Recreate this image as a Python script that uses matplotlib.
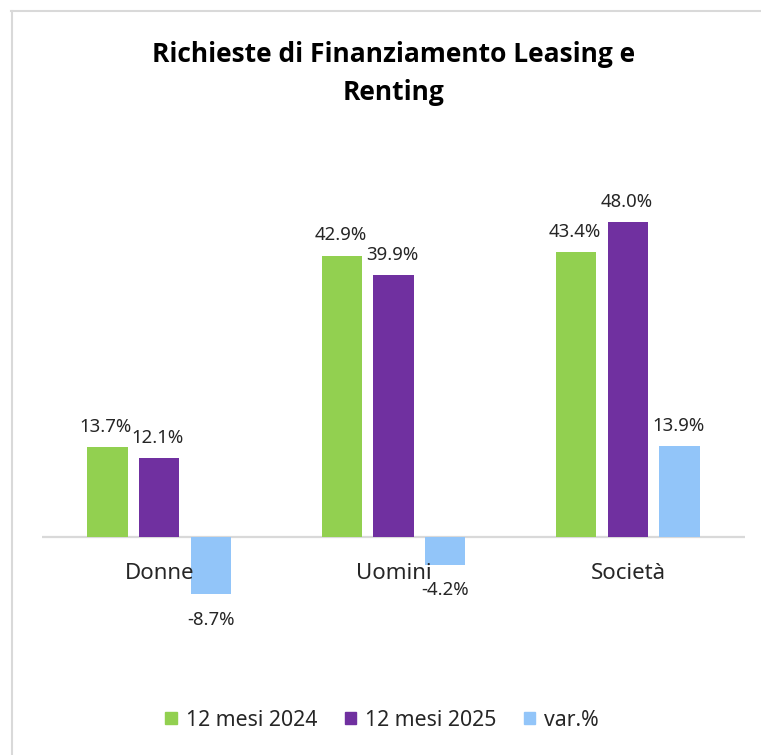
import numpy as np
import matplotlib.pyplot as plt
from matplotlib.lines import Line2D

plt.rcParams['font.family'] = ['Noto Sans', 'DejaVu Sans']

categories = ['Donne', 'Uomini', 'Società']
series_names = ['12 mesi 2024', '12 mesi 2025', 'var.%']
val_2024 = [13.7, 42.9, 43.4]
val_2025 = [12.1, 39.9, 48.0]
var_pct = [-8.7, -4.2, 13.9]

colors = ['#92D050', '#7030A0', '#92C5F9']

W, H = 761, 755
fig = plt.figure(figsize=(W / 100, H / 100), dpi=100)

# plot area in pixels: x 42..745, zero line at y=537, 6.56 px per unit
ymin, ymax = -15, 55
ppu = 6.56
top_px = 537 - ymax * ppu
bot_px = 537 - ymin * ppu
ax = fig.add_axes([42 / W, 1 - bot_px / H, 703 / W, (bot_px - top_px) / H])
ax.set_xlim(-0.5, 2.5)
ax.set_ylim(ymin, ymax)
ax.axis('off')

x = np.arange(len(categories))
width = 0.172
offsets = [-0.221, 0.0, 0.221]
for vals, off, col, name in zip([val_2024, val_2025, var_pct], offsets, colors, series_names):
    bars = ax.bar(x + off, vals, width, color=col, label=name, zorder=2)
    for b, v in zip(bars, vals):
        if v >= 0:
            ax.annotate(f'{v:.1f}%', (b.get_x() + b.get_width() / 2, v),
                        xytext=(-1, 8), textcoords='offset points',
                        ha='center', va='bottom', fontsize=13.4, color='#262626')
        else:
            ax.annotate(f'{v:.1f}%', (b.get_x() + b.get_width() / 2, v),
                        xytext=(0, -12), textcoords='offset points',
                        ha='center', va='top', fontsize=13.4, color='#262626')

ax.axhline(0, color='#d9d9d9', lw=1.6, zorder=1)

for i, c in enumerate(categories):
    ax.annotate(c, (i, 0), xytext=(0, -26), textcoords='offset points',
                ha='center', va='center', fontsize=16, color='#262626', zorder=3)

title_font = dict(ha='center', va='center', fontsize=19, fontweight='bold',
                  color='black', family=['Open Sans', 'DejaVu Sans'])
fig.text(394 / W, 1 - 55 / H, 'Richieste di Finanziamento Leasing e', **title_font)
fig.text(394 / W, 1 - 92 / H, 'Renting', **title_font)

handles = [plt.Rectangle((0, 0), 1, 1, color=c) for c in colors]
fig.legend(handles, series_names, loc='center', bbox_to_anchor=(382 / W, 1 - 720 / H),
           ncol=3, frameon=False, fontsize=15.3, handlelength=0.55, handleheight=0.55,
           handletextpad=0.4, columnspacing=1.3, labelcolor='#262626')

# chart border (only top and left visible)
fig.add_artist(Line2D([11 / W, 1], [1 - 11 / H, 1 - 11 / H], color='#d9d9d9', lw=1.5))
fig.add_artist(Line2D([12 / W, 12 / W], [0, 1 - 11 / H], color='#d9d9d9', lw=1.5))

fig.savefig('out.png', dpi=100)
